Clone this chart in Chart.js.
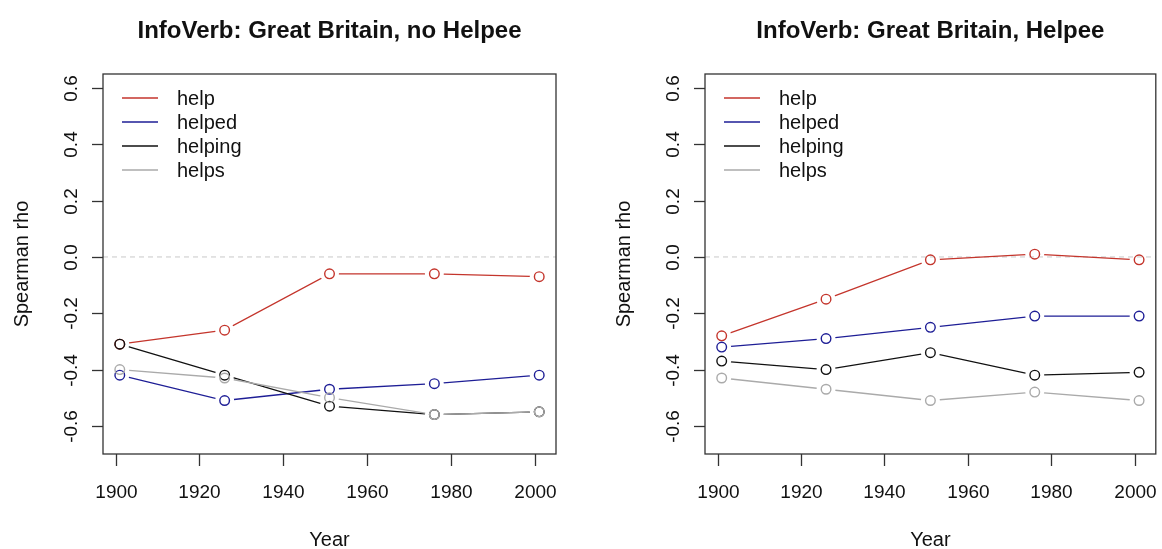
<!DOCTYPE html>
<html>
<head>
<meta charset="utf-8">
<script src="https://cdn.jsdelivr.net/npm/chart.js@4"></script>
<style>
  html, body { margin: 0; padding: 0; background: #fff; }
  .panel { position: absolute; top: 0; width: 581px; height: 549px; }
</style>
</head>
<body>
<div class="panel" style="left:0"><canvas id="left" width="581" height="549"></canvas></div>
<div class="panel" style="left:581px"><canvas id="right" width="581" height="549"></canvas></div>
<script>
// sample years (one point per period)
const years = [1901, 1926, 1951, 1976, 2001];
const seriesNames = ['help', 'helped', 'helping', 'helps'];
const seriesColors = ['#C4352C', '#1E1E96', '#111111', '#AAAAAA'];

const xTicks = [1900, 1920, 1940, 1960, 1980, 2000];
const yTicks = [-0.6, -0.4, -0.2, 0.0, 0.2, 0.4, 0.6];
const yTickLabels = ['-0.6', '-0.4', '-0.2', '0.0', '0.2', '0.4', '0.6'];

// Great Britain, no Helpee
const noHelpeeHelp = [-0.31, -0.26, -0.06, -0.06, -0.07];
const noHelpeeHelped = [-0.42, -0.51, -0.47, -0.45, -0.42];
const noHelpeeHelping = [-0.31, -0.42, -0.53, -0.56, -0.55];
const noHelpeeHelps = [-0.40, -0.43, -0.50, -0.56, -0.55];

// Great Britain, Helpee
const helpeeHelp = [-0.28, -0.15, -0.01, 0.01, -0.01];
const helpeeHelped = [-0.32, -0.29, -0.25, -0.21, -0.21];
const helpeeHelping = [-0.37, -0.40, -0.34, -0.42, -0.41];
const helpeeHelps = [-0.43, -0.47, -0.51, -0.48, -0.51];

const FONT = '"Liberation Sans", Arial, sans-serif';
const GAP = 9.5;

function toPoints(vals) {
    return vals.map((v, i) => ({ x: years[i], y: v }));
}

function buildDatasets(seriesValues) {
    const sets = [{
        label: 'zero',
        data: [{ x: 1897, y: 0 }, { x: 2005, y: 0 }],
        borderColor: '#C8C8C8',
        borderWidth: 1,
        borderDash: [5, 4],
        pointRadius: 0,
        order: 100
    }];
    seriesValues.forEach((vals, i) => {
        // line first, then open circles on top (like R type="b")
        sets.push({
            label: seriesNames[i],
            data: toPoints(vals),
            borderColor: seriesColors[i],
            borderWidth: 1.3,
            pointRadius: 0,
            tension: 0,
            gapped: true,
            order: 50 - i * 2
        });
        sets.push({
            label: seriesNames[i] + ' pts',
            data: toPoints(vals),
            showLine: false,
            pointRadius: 4.8,
            pointBorderWidth: 1.4,
            pointBorderColor: seriesColors[i],
            pointBackgroundColor: 'rgba(0,0,0,0)',
            order: 49 - i * 2
        });
    });
    return sets;
}

// R-style frame: box, ticks, labels, legend, title
const rFrame = {
    id: 'rFrame',
    beforeDatasetDraw(chart, args) {
        const ds = chart.data.datasets[args.index];
        if (!ds.gapped) return;
        const ctx = chart.ctx;
        ctx.save();
        ctx.beginPath();
        ctx.rect(0, 0, chart.width, chart.height);
        args.meta.data.forEach(p => {
            ctx.moveTo(p.x + GAP, p.y);
            ctx.arc(p.x, p.y, GAP, 0, Math.PI * 2);
        });
        ctx.clip('evenodd');
    },
    afterDatasetDraw(chart, args) {
        const ds = chart.data.datasets[args.index];
        if (ds.gapped) chart.ctx.restore();
    },
    afterDraw(chart, args, opts) {
        const ctx = chart.ctx;
        const area = chart.chartArea;
        const xs = chart.scales.x;
        const ys = chart.scales.y;
        ctx.save();
        ctx.strokeStyle = '#333';
        ctx.lineWidth = 1.3;
        ctx.strokeRect(area.left, area.top, area.right - area.left, area.bottom - area.top);

        ctx.fillStyle = '#111';
        ctx.font = '19px ' + FONT;
        ctx.textAlign = 'center';
        ctx.textBaseline = 'middle';
        // x axis
        xTicks.forEach(t => {
            const px = Math.round(xs.getPixelForValue(t)) + 0.5;
            ctx.beginPath();
            ctx.moveTo(px, area.bottom);
            ctx.lineTo(px, area.bottom + 12);
            ctx.stroke();
            ctx.fillText(String(t), px, 493);
        });
        // y axis
        yTicks.forEach((t, i) => {
            const py = Math.round(ys.getPixelForValue(t)) + 0.5;
            ctx.beginPath();
            ctx.moveTo(area.left, py);
            ctx.lineTo(area.left - 11, py);
            ctx.stroke();
            ctx.save();
            ctx.translate(area.left - 31, py);
            ctx.rotate(-Math.PI / 2);
            ctx.fillText(yTickLabels[i], 0, 0);
            ctx.restore();
        });
        const cx = (area.left + area.right) / 2;
        const cy = (area.top + area.bottom) / 2;
        ctx.font = '20px ' + FONT;
        ctx.fillText('Year', cx, 540);
        ctx.save();
        ctx.translate(area.left - 81, cy);
        ctx.rotate(-Math.PI / 2);
        ctx.fillText('Spearman rho', 0, 0);
        ctx.restore();

        // legend
        ctx.textAlign = 'left';
        seriesNames.forEach((name, i) => {
            const ly = area.top + 24 + i * 24;
            ctx.strokeStyle = seriesColors[i];
            ctx.lineWidth = 1.5;
            ctx.beginPath();
            ctx.moveTo(area.left + 19, ly);
            ctx.lineTo(area.left + 55, ly);
            ctx.stroke();
            ctx.fillText(name, area.left + 74, ly + 1);
        });

        // title
        ctx.font = 'bold 24px ' + FONT;
        ctx.textAlign = 'center';
        ctx.fillText(opts.title, cx, 31);
        ctx.restore();
    }
};

function makeChart(id, title, seriesValues, pad) {
    return new Chart(document.getElementById(id), {
        type: 'line',
        data: { datasets: buildDatasets(seriesValues) },
        options: {
            responsive: false,
            animation: false,
            devicePixelRatio: 1,
            events: [],
            layout: { padding: pad },
            scales: {
                x: { type: 'linear', min: 1897, max: 2005, display: false },
                y: { type: 'linear', min: -0.7, max: 0.65, display: false }
            },
            plugins: {
                legend: { display: false },
                tooltip: { enabled: false },
                rFrame: { title: title }
            }
        },
        plugins: [rFrame]
    });
}

makeChart('left', 'InfoVerb: Great Britain, no Helpee',
    [noHelpeeHelp, noHelpeeHelped, noHelpeeHelping, noHelpeeHelps],
    { left: 103, right: 25, top: 74, bottom: 95 });
makeChart('right', 'InfoVerb: Great Britain, Helpee',
    [helpeeHelp, helpeeHelped, helpeeHelping, helpeeHelps],
    { left: 124, right: 3, top: 74, bottom: 95 });
</script>
</body>
</html>
